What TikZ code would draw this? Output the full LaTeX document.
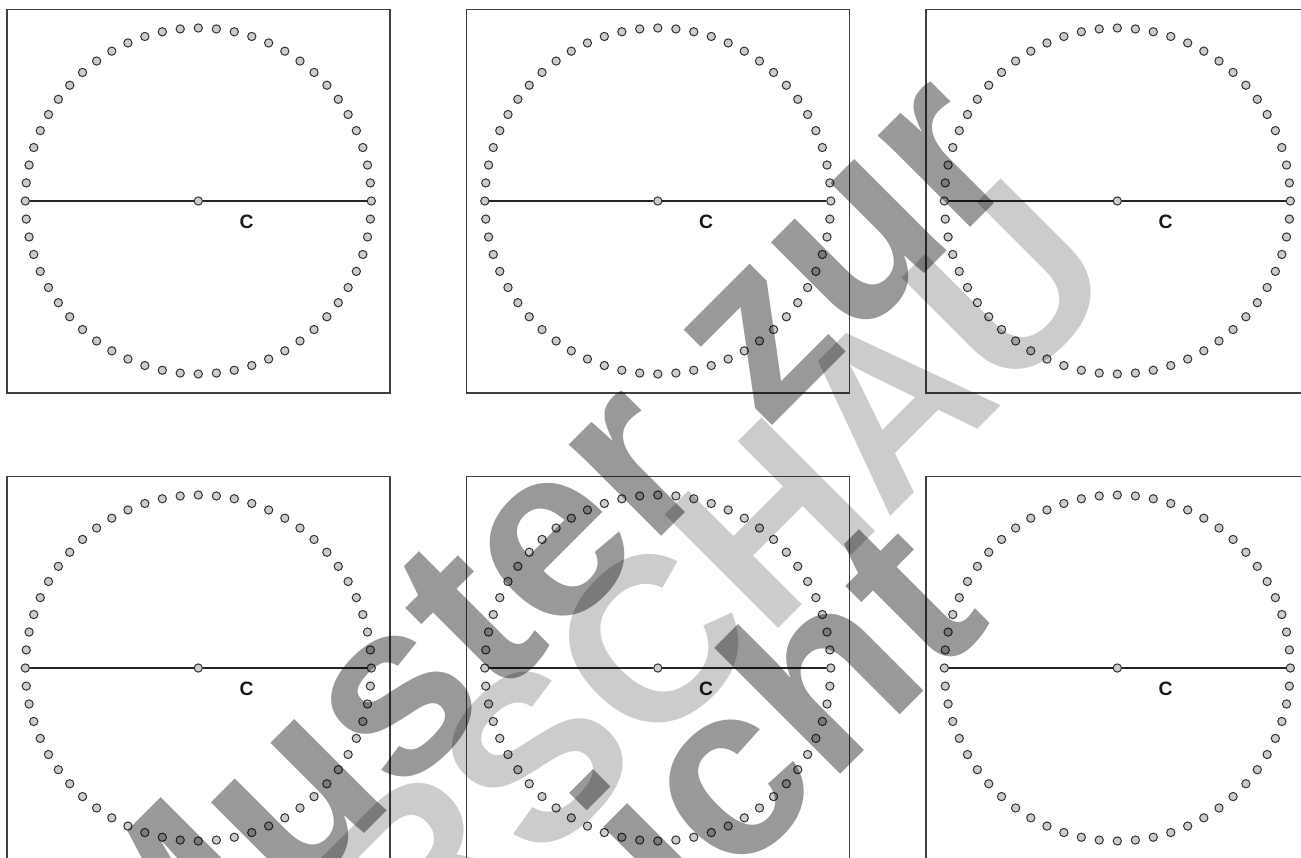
\documentclass[tikz,border=0pt]{standalone}
\usepackage{fontspec}
\setmainfont{Liberation Sans}
\begin{document}
\begin{tikzpicture}[x=0.75pt,y=-0.75pt,
  dot/.style={circle,draw=black!80,fill=black!20,line width=0.75pt,minimum size=6.2pt,inner sep=0pt},
  frame/.style={draw=black!75,line width=0.85pt},
  diam/.style={draw=black!85,line width=1.9pt},
  lbl/.style={font=\fontsize{14.5}{15}\selectfont\bfseries,text=black!90,inner sep=0pt},
  wmdark/.style={text=black,text opacity=0.4,font=\fontsize{184.5}{190}\selectfont\bfseries,inner sep=0pt,anchor=base,rotate=45},
  wmlight/.style={text=black,text opacity=0.2,font=\fontsize{175}{180}\selectfont\bfseries,inner sep=0pt,anchor=base,rotate=45}]
\useasboundingbox (0,0) rectangle (1301,857);
\foreach \i/\cx/\cy in {1/198.3/201, 2/657.8/201, 3/1117.3/201, 4/198.3/668, 5/657.8/668, 6/1117.3/668} {
  \draw[frame] (\cx-191.3,\cy-191.5) rectangle (\cx+191.7,\cy+192);
  \foreach \k in {0,...,59} {
    \node[dot] (d\i-\k) at ({\cx+173*cos(6*\k)},{\cy-173*sin(6*\k)}) {};
  }
  \node[dot] (c\i) at (\cx,\cy) {};
  \draw[diam] (d\i-30) -- (c\i);
  \draw[diam] (c\i) -- (d\i-0);
  \node[lbl] (t\i) at (\cx+48.4,\cy+20.7) {C};
}
\begin{scope}
  \clip (0,0) rectangle (1301,857);
  \node[wmdark] (wm1) at (587,611) {Muster zur};
  \node[wmlight] (wm2) at (653,754) {VORSCHAU};
  \node[wmdark] (wm3) at (674,941) {Ansicht};
\end{scope}
\end{tikzpicture}
\end{document}
